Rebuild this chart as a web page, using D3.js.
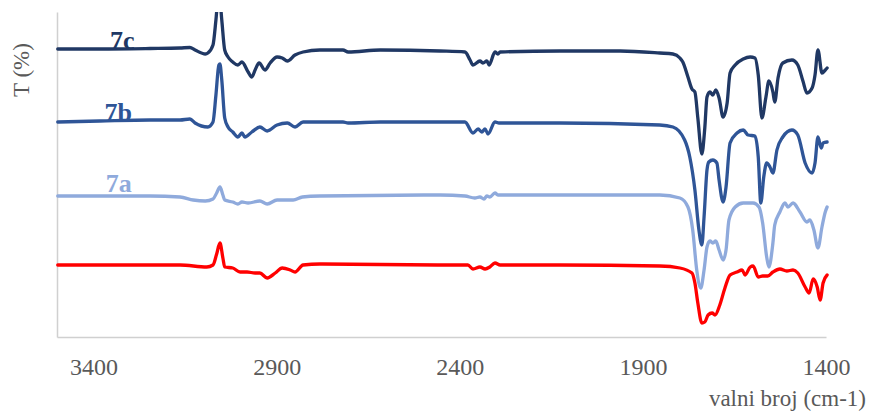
<!DOCTYPE html>
<html>
<head>
<meta charset="utf-8">
<script src="https://cdn.jsdelivr.net/npm/d3@7"></script>
<style>
  html, body { margin: 0; padding: 0; background: #fff; }
  svg { display: block; }
  text { font-family: "Liberation Serif", "DejaVu Serif", serif; }
</style>
</head>
<body>
<svg id="chart"></svg>
<script>
// spectra: [wave number, T (arbitrary offset units)]
const spec7c = [
  [3498, 288], [3383, 288], [3246, 288.5], [3164, 289], [3137, 289.5], [3123, 287],
  [3095, 283], [3088, 284], [3074, 292], [3066, 317], [3058, 347], [3050, 317],
  [3042, 287], [3033, 280], [3020, 275], [3006, 272], [2995, 275], [2978, 265],
  [2968, 260], [2959, 267], [2948, 274], [2932, 267], [2918, 274], [2899, 280],
  [2885, 279], [2871, 276], [2850, 282], [2828, 285], [2782, 287], [2719, 287],
  [2705, 285], [2617, 287], [2454, 286], [2386, 285], [2372, 277], [2364, 272],
  [2345, 276], [2337, 274], [2326, 276], [2320, 272], [2304, 285], [2296, 283],
  [2290, 285], [2127, 286], [1962, 286], [1854, 284], [1818, 283], [1799, 279],
  [1791, 275], [1777, 260], [1766, 248], [1758, 245], [1750, 219], [1739, 183],
  [1731, 209], [1725, 240], [1717, 245], [1709, 242], [1701, 247], [1692, 239],
  [1681, 220], [1670, 234], [1662, 264], [1648, 272], [1626, 278], [1607, 280],
  [1594, 279], [1585, 262], [1575, 219], [1564, 240], [1556, 256], [1545, 245],
  [1540, 235], [1531, 259], [1518, 274], [1493, 277], [1477, 272], [1463, 256],
  [1452, 244], [1438, 249], [1430, 262], [1422, 287], [1411, 264], [1402, 267],
  [1397, 269]
];

const spec7b = [
  [3498, 215], [3383, 216], [3246, 217], [3164, 217], [3137, 218], [3123, 214],
  [3088, 210], [3074, 215], [3066, 242], [3058, 272], [3055, 273], [3050, 257],
  [3042, 219], [3033, 210], [3020, 205], [3006, 200], [2995, 204], [2987, 200],
  [2968, 205], [2946, 210], [2926, 206], [2899, 212], [2871, 214], [2850, 210],
  [2828, 215], [2719, 215], [2705, 214], [2617, 215], [2386, 215], [2364, 204],
  [2350, 208], [2340, 205], [2331, 208], [2323, 203], [2304, 215], [2293, 214],
  [2127, 214], [1854, 212], [1818, 210], [1786, 197], [1772, 180], [1758, 147],
  [1747, 107], [1739, 92], [1733, 120], [1725, 167], [1720, 175], [1709, 177],
  [1698, 174], [1692, 157], [1681, 135], [1673, 150], [1662, 194], [1643, 204],
  [1626, 207], [1613, 202], [1594, 201], [1585, 180], [1578, 134], [1570, 160],
  [1562, 174], [1553, 170], [1545, 164], [1534, 187], [1518, 200], [1493, 207],
  [1477, 202], [1457, 174], [1438, 164], [1430, 174], [1422, 200], [1413, 189],
  [1408, 194], [1397, 195]
];

const spec7a = [
  [3498, 141], [3383, 141], [3246, 141], [3164, 140], [3128, 137], [3095, 136],
  [3074, 138], [3064, 144], [3055, 150], [3047, 142], [3042, 137], [3020, 135],
  [3006, 133], [2995, 135], [2978, 134], [2946, 136], [2926, 133], [2899, 137],
  [2855, 137], [2830, 140], [2782, 141], [2454, 142], [2386, 141], [2359, 139],
  [2345, 140], [2334, 138], [2326, 141], [2318, 140], [2304, 144], [2296, 142],
  [2127, 142], [1854, 142], [1799, 139], [1777, 130], [1764, 107], [1753, 67],
  [1742, 49], [1733, 67], [1725, 90], [1717, 96], [1709, 94], [1701, 96],
  [1692, 87], [1681, 77], [1673, 87], [1665, 117], [1648, 130], [1626, 134],
  [1599, 134], [1583, 130], [1573, 114], [1562, 80], [1556, 70], [1545, 94],
  [1540, 112], [1526, 125], [1512, 134], [1504, 130], [1490, 134], [1471, 125],
  [1452, 115], [1444, 117], [1433, 107], [1422, 89], [1411, 110], [1402, 125],
  [1397, 130]
];

const specRef = [
  [3498, 72], [3383, 72], [3246, 72], [3164, 72], [3091, 70], [3074, 72],
  [3064, 83], [3055, 94], [3047, 79], [3042, 70], [3020, 69], [3000, 65],
  [2981, 65], [2959, 64], [2946, 64], [2926, 59], [2904, 64], [2885, 69],
  [2863, 67], [2850, 65], [2828, 72], [2782, 73], [2454, 72], [2378, 72],
  [2364, 68], [2345, 70], [2331, 68], [2318, 70], [2304, 74], [2290, 72],
  [2127, 72], [1854, 71], [1799, 69], [1766, 64], [1758, 54], [1750, 34],
  [1739, 14], [1731, 15], [1722, 22], [1711, 24], [1703, 22], [1690, 32],
  [1676, 49], [1662, 62], [1643, 65], [1629, 67], [1621, 62], [1607, 70],
  [1599, 71], [1585, 60], [1573, 61], [1559, 61], [1545, 65], [1526, 68],
  [1507, 66], [1490, 67], [1477, 64], [1457, 50], [1446, 44], [1435, 58],
  [1424, 50], [1416, 37], [1408, 54], [1397, 62]
];

const seriesNames  = ["7c", "7b", "7a", ""];
const seriesColors = ["#203864", "#2f5597", "#8faadc", "#ff0000"];
const xTicks = [3400, 2900, 2400, 1900, 1400];
const xDomain = [3500, 1400];
const yDomain = [0, 325];

const W = 872, H = 414;
const plot = { left: 57, right: 826, top: 12, bottom: 337 };
const serif = '"Liberation Serif", "DejaVu Serif", serif';

const svg = d3.select('#chart').attr('width', W).attr('height', H);

const x = d3.scaleLinear().domain(xDomain).range([plot.left, plot.right]);
const y = d3.scaleLinear().domain(yDomain).range([plot.bottom, plot.top]);

svg.append('clipPath').attr('id', 'plotclip')
  .append('rect')
  .attr('x', plot.left - 2).attr('y', plot.top)
  .attr('width', plot.right - plot.left + 6)
  .attr('height', plot.bottom - plot.top);

// axes: plain grey lines, tick labels only on x
const xAxis = d3.axisBottom(x).tickValues(xTicks).tickSize(0).tickPadding(21).tickFormat(d3.format('d'));
const gx = svg.append('g').attr('transform', `translate(0,${plot.bottom})`).call(xAxis);
gx.attr('font-family', serif);
gx.select('.domain').attr('stroke', '#d0d0d0').attr('stroke-width', 1.5);
gx.selectAll('text')
  .attr('fill', '#595959')
  .attr('font-size', 24);

const yAxis = d3.axisLeft(y).tickValues([]).tickSize(0);
const gy = svg.append('g').attr('transform', `translate(${plot.left},0)`).call(yAxis);
gy.select('.domain').attr('stroke', '#d0d0d0').attr('stroke-width', 1.5);

// spectra
const line = d3.line()
  .x(d => x(d[0]))
  .y(d => y(d[1]))
  .curve(d3.curveMonotoneX);

const allSpectra = [spec7c, spec7b, spec7a, specRef];

svg.append('g').attr('clip-path', 'url(#plotclip)')
  .selectAll('path')
  .data(allSpectra)
  .join('path')
  .attr('d', line)
  .attr('fill', 'none')
  .attr('stroke', (d, i) => seriesColors[i])
  .attr('stroke-width', 3.3)
  .attr('stroke-linejoin', 'round')
  .attr('stroke-linecap', 'round');

// series labels sit on their baselines
const labelAt = [[3355, 288], [3370, 216], [3367, 145]];
svg.selectAll('.lab')
  .data(labelAt)
  .join('text')
  .attr('class', 'lab')
  .attr('x', d => x(d[0]))
  .attr('y', d => y(d[1]))
  .attr('fill', (d, i) => seriesColors[i])
  .attr('font-size', 26)
  .attr('font-weight', 'bold')
  .text((d, i) => seriesNames[i]);

// axis titles
svg.append('text')
  .attr('transform', 'translate(29,70) rotate(-90)')
  .attr('text-anchor', 'middle')
  .attr('fill', '#595959')
  .attr('font-size', 23)
  .text('T (%)');

svg.append('text')
  .attr('x', 866).attr('y', 406)
  .attr('text-anchor', 'end')
  .attr('fill', '#595959')
  .attr('font-size', 23)
  .text('valni broj (cm-1)');
</script>
</body>
</html>
